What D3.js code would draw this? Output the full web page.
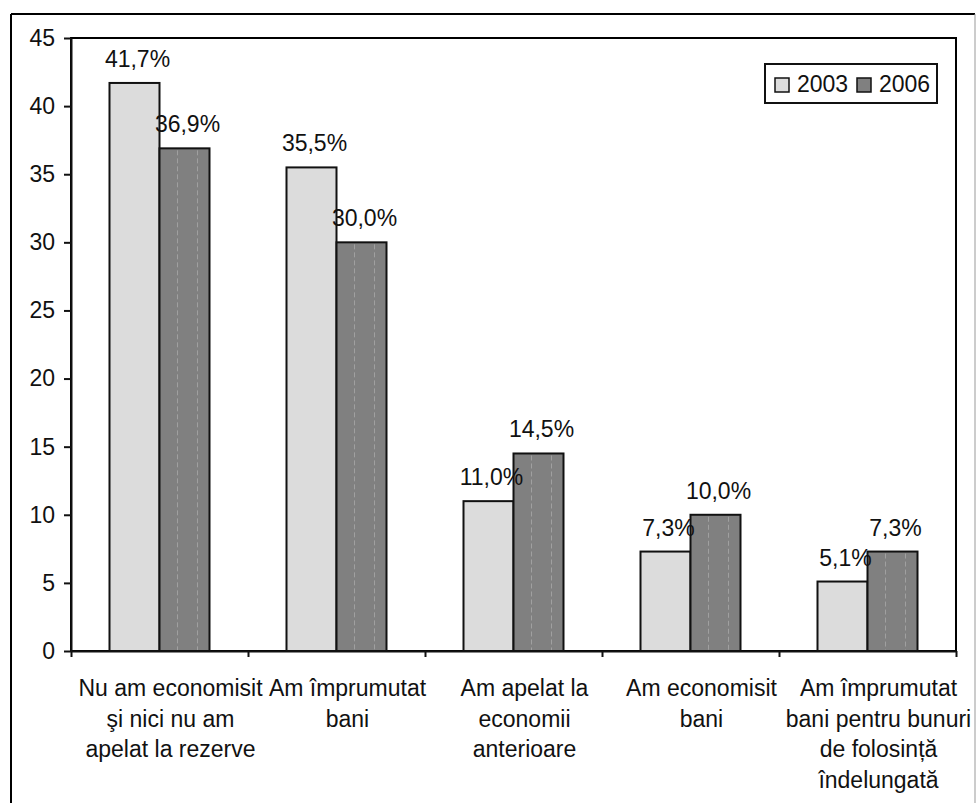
<!DOCTYPE html>
<html>
<head>
<meta charset="utf-8">
<script src="https://cdn.jsdelivr.net/npm/d3@7"></script>
<style>
  html, body { margin: 0; padding: 0; background: #fff; }
  svg { display: block; }
  text { font-family: "Liberation Sans", Arial, sans-serif; fill: #111; }
</style>
</head>
<body>
<svg id="chart" width="976" height="803"></svg>
<script>
const categories = [
  ["Nu am economisit", "şi nici nu am", "apelat la rezerve"],
  ["Am împrumutat", "bani"],
  ["Am apelat la", "economii", "anterioare"],
  ["Am economisit", "bani"],
  ["Am împrumutat", "bani pentru bunuri", "de folosință", "îndelungată"]
];
const series = ["2003", "2006"];
const values2003 = [41.7, 35.5, 11.0, 7.3, 5.1];
const values2006 = [36.9, 30.0, 14.5, 10.0, 7.3];
const yTicks = [0, 5, 10, 15, 20, 25, 30, 35, 40, 45];

const colors = { "2003": "#dcdcdc", "2006": "#808080" };
const FS = 23;

const svg = d3.select("#chart");
const pLeft = 71, pRight = 956, pTop = 38, pBottom = 651;

const catKeys = categories.map((c, i) => i);
const x0 = d3.scaleBand().domain(catKeys).range([pLeft, pRight]).padding(0);
const x1 = d3.scaleBand().domain(series).range([0, x0.bandwidth()]).paddingInner(0).paddingOuter(0.77);
const y = d3.scaleLinear().domain([0, 45]).range([pBottom, pTop]);

// outer frame
svg.append("line").attr("x1", 11).attr("x2", 975).attr("y1", 14).attr("y2", 14).attr("stroke", "#000").attr("stroke-width", 2);
svg.append("line").attr("x1", 11).attr("x2", 11).attr("y1", 14).attr("y2", 803).attr("stroke", "#000").attr("stroke-width", 2);
svg.append("line").attr("x1", 975).attr("x2", 975).attr("y1", 14).attr("y2", 803).attr("stroke", "#999").attr("stroke-width", 1);

// plot area border
svg.append("rect").attr("x", pLeft).attr("y", y(45)).attr("width", pRight - pLeft).attr("height", pBottom - y(45))
  .attr("fill", "none").attr("stroke", "#000").attr("stroke-width", 2);

const data = [];
catKeys.forEach(i => {
  data.push({ cat: i, s: "2003", v: values2003[i] });
  data.push({ cat: i, s: "2006", v: values2006[i] });
});

const bars = svg.append("g");
bars.selectAll("rect").data(data).join("rect")
  .attr("x", d => x0(d.cat) + x1(d.s))
  .attr("y", d => y(d.v))
  .attr("width", x1.bandwidth())
  .attr("height", d => y(0) - y(d.v))
  .attr("fill", d => colors[d.s])
  .attr("stroke", "#111")
  .attr("stroke-width", 2);

// dashed vertical texture in 2006 bars
const d06 = data.filter(d => d.s === "2006");
[0.36, 0.76].forEach(f => {
  bars.append("g").selectAll("line").data(d06).join("line")
    .attr("x1", d => x0(d.cat) + x1(d.s) + x1.bandwidth() * f)
    .attr("x2", d => x0(d.cat) + x1(d.s) + x1.bandwidth() * f)
    .attr("y1", d => y(d.v) + 2)
    .attr("y2", y(0) - 1)
    .attr("stroke", "#a0a0a0")
    .attr("stroke-width", 1)
    .attr("stroke-dasharray", "5,3");
});

// value labels
const fmt = v => d3.format(".1f")(v).replace(".", ",") + "%";
svg.append("g").selectAll("text").data(data).join("text")
  .attr("x", d => x0(d.cat) + x1(d.s) + x1.bandwidth() / 2 + 3)
  .attr("y", d => y(d.v) - 16)
  .attr("text-anchor", "middle")
  .attr("font-size", FS)
  .text(d => fmt(d.v));

// y axis
const yAxis = svg.append("g").attr("transform", `translate(${pLeft},0)`)
  .call(d3.axisLeft(y).tickValues(yTicks).tickSize(7).tickPadding(9).tickSizeOuter(0));
yAxis.select(".domain").attr("stroke", "#111").attr("stroke-width", 2);
yAxis.selectAll(".tick line").attr("stroke", "#111").attr("stroke-width", 2);
yAxis.selectAll(".tick text").attr("font-size", FS).attr("font-family", "Liberation Sans, Arial, sans-serif").attr("fill", "#111");

// x axis
const bounds = catKeys.map(i => x0(i)).concat([pRight]);
const xs = d3.scaleLinear().domain([pLeft, pRight]).range([pLeft, pRight]);
const xAxis = svg.append("g").attr("transform", `translate(0,${pBottom})`)
  .call(d3.axisBottom(xs).tickValues(bounds).tickSize(6).tickFormat("").tickSizeOuter(0));
xAxis.select(".domain").attr("stroke", "#111").attr("stroke-width", 2);
xAxis.selectAll(".tick line").attr("stroke", "#111").attr("stroke-width", 2);

// category labels
const catG = svg.append("g");
catKeys.forEach(i => {
  const cx = x0(i) + x0.bandwidth() / 2 + 11;
  const t = catG.append("text")
    .attr("x", cx)
    .attr("y", 696)
    .attr("text-anchor", "middle")
    .attr("font-size", FS);
  categories[i].forEach((line, k) => {
    t.append("tspan").attr("x", cx).attr("y", 696 + k * 30.5).text(line);
  });
});

// legend
const lg = svg.append("g");
lg.append("rect").attr("x", 765).attr("y", 64).attr("width", 172).attr("height", 39)
  .attr("fill", "#fff").attr("stroke", "#111").attr("stroke-width", 2);
const legendItems = [{ s: "2003", sx: 775, tx: 797 }, { s: "2006", sx: 857, tx: 879 }];
legendItems.forEach(it => {
  lg.append("rect").attr("x", it.sx).attr("y", 78).attr("width", 14).attr("height", 14)
    .attr("fill", colors[it.s]).attr("stroke", "#111").attr("stroke-width", 1.5);
  lg.append("text").attr("x", it.tx).attr("y", 92).attr("font-size", FS).text(it.s);
});
</script>
</body>
</html>
